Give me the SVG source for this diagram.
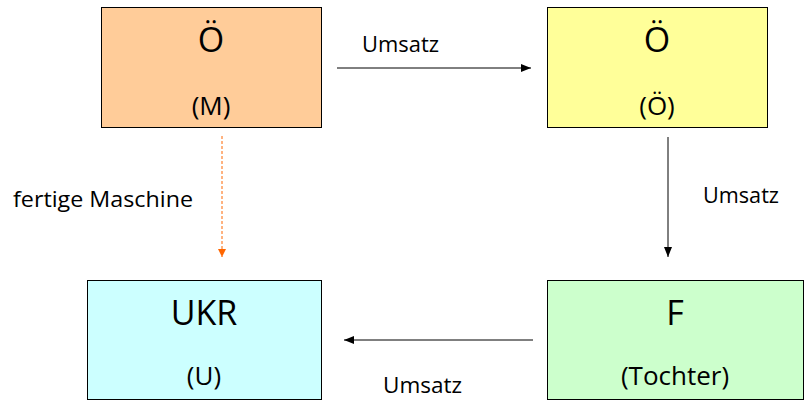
<svg xmlns="http://www.w3.org/2000/svg" width="805" height="400" viewBox="0 0 805 400">
<style>
.box{stroke:#000;stroke-width:1}
.t{font-family:"Open Sans","Liberation Sans",sans-serif;fill:#000;text-anchor:middle}
.big{font-size:34px}
.sm{font-size:26px}
.lbl{font-family:"Open Sans","Liberation Sans",sans-serif;font-size:22px;fill:#000}
</style>
<defs>
<marker id="ah" markerWidth="10" markerHeight="8" refX="10" refY="4" orient="auto" markerUnits="userSpaceOnUse">
<path d="M0,0 L10,4 L0,8 z" fill="#000"/>
</marker>
<marker id="aho" markerWidth="8" markerHeight="8" refX="8" refY="4" orient="auto" markerUnits="userSpaceOnUse">
<path d="M0,0 L8,4 L0,8 z" fill="#FF6600"/>
</marker>
</defs>
<rect width="805" height="400" fill="#fff"/>
<g id="connectors">
<line x1="337" y1="68" x2="531" y2="68" stroke="#000" stroke-width="1" marker-end="url(#ah)"/>
<line x1="668" y1="137" x2="668" y2="257" stroke="#000" stroke-width="1" marker-end="url(#ah)"/>
<line x1="533" y1="340" x2="344" y2="340" stroke="#000" stroke-width="1" marker-end="url(#ah)"/>
<line x1="222" y1="136" x2="222" y2="257" stroke="#FF6600" stroke-width="1" stroke-dasharray="3,2" marker-end="url(#aho)"/>
<text class="lbl" x="362" y="52" textLength="77" lengthAdjust="spacingAndGlyphs">Umsatz</text>
<text class="lbl" x="703" y="203" textLength="76" lengthAdjust="spacingAndGlyphs">Umsatz</text>
<text class="lbl" x="383" y="393" textLength="79" lengthAdjust="spacingAndGlyphs">Umsatz</text>
<text class="lbl" x="13" y="207" textLength="180" lengthAdjust="spacingAndGlyphs">fertige Maschine</text>
</g>
<g id="node-oe-m">
<rect class="box" x="101.5" y="7.5" width="220" height="120" fill="#FFCC99"/>
<text class="t big" x="211" y="52">Ö</text>
<text class="t sm" x="211" y="115">(M)</text>
</g>
<g id="node-oe-oe">
<rect class="box" x="547.5" y="7.5" width="220" height="120" fill="#FFFF99"/>
<text class="t big" x="657" y="52">Ö</text>
<text class="t sm" x="657" y="115">(Ö)</text>
</g>
<g id="node-ukr">
<rect class="box" x="87.5" y="280.5" width="234" height="119" fill="#CCFFFF"/>
<text class="t big" x="204" y="325">UKR</text>
<text class="t sm" x="204" y="385">(U)</text>
</g>
<g id="node-f">
<rect class="box" x="547.5" y="280.5" width="256" height="119" fill="#CCFFCC"/>
<text class="t big" x="675" y="325">F</text>
<text class="t sm" x="675" y="385">(Tochter)</text>
</g>
</svg>
